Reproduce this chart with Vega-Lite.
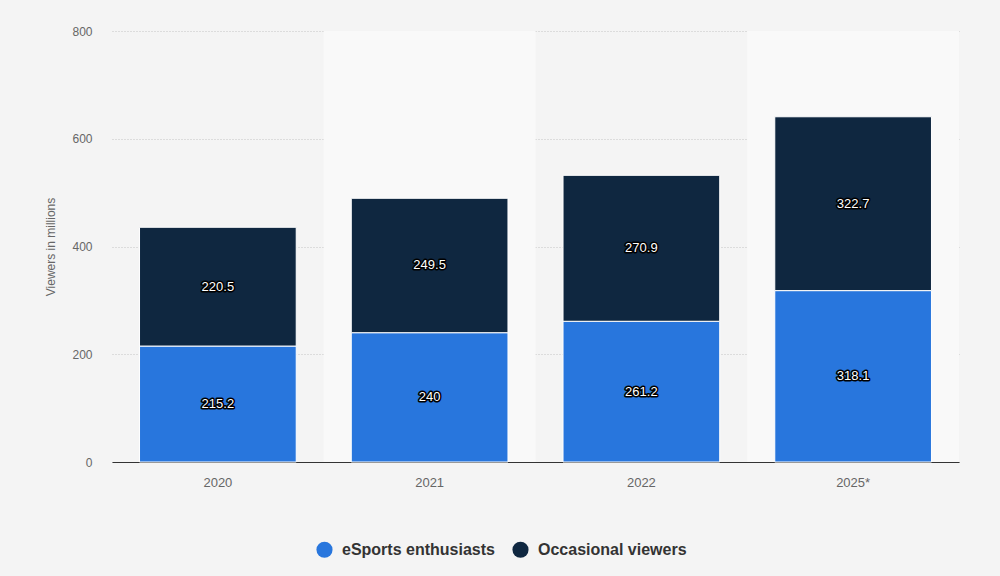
{
  "$schema": "https://vega.github.io/schema/vega-lite/v6.json",
  "width": 847,
  "height": 431,
  "autosize": {"type": "none"},
  "padding": {"left": 112, "top": 31, "right": 41, "bottom": 114},
  "background": "#f4f4f4",
  "config": {
    "view": {"stroke": null},
    "font": "Liberation Sans"
  },
  "datasets": {
    "main": [
      {"year": "2020", "series": "eSports enthusiasts", "value": 215.2, "rank": 1},
      {"year": "2020", "series": "Occasional viewers", "value": 220.5, "rank": 2},
      {"year": "2021", "series": "eSports enthusiasts", "value": 240, "rank": 1},
      {"year": "2021", "series": "Occasional viewers", "value": 249.5, "rank": 2},
      {"year": "2022", "series": "eSports enthusiasts", "value": 261.2, "rank": 1},
      {"year": "2022", "series": "Occasional viewers", "value": 270.9, "rank": 2},
      {"year": "2025*", "series": "eSports enthusiasts", "value": 318.1, "rank": 1},
      {"year": "2025*", "series": "Occasional viewers", "value": 322.7, "rank": 2}
    ],
    "bands": [
      {"year": "2021"},
      {"year": "2025*"}
    ]
  },
  "encoding": {
    "x": {
      "field": "year",
      "type": "nominal",
      "scale": {"domain": ["2020", "2021", "2022", "2025*"], "paddingInner": 0.26, "paddingOuter": 0.13},
      "axis": {
        "title": null,
        "labelAngle": 0,
        "labelFontSize": 13,
        "labelColor": "#666666",
        "labelPadding": 14,
        "ticks": false,
        "domainColor": "#333333",
        "domainWidth": 1
      }
    }
  },
  "layer": [
    {
      "data": {"name": "bands"},
      "mark": {"type": "bar", "color": "#f9f9f9", "width": {"band": 1.3514}},
      "encoding": {
        "y": {"datum": 0, "type": "quantitative"},
        "y2": {"datum": 800}
      }
    },
    {
      "data": {"name": "main"},
      "mark": {"type": "bar", "stroke": "#ffffff", "strokeWidth": 1},
      "encoding": {
        "y": {
          "field": "value",
          "type": "quantitative",
          "stack": "zero",
          "scale": {"domain": [0, 800], "nice": false},
          "axis": {
            "title": "Viewers in millions",
            "titleFontSize": 12,
            "titleFontWeight": "normal",
            "titleColor": "#666666",
            "titlePadding": 14,
            "values": [0, 200, 400, 600, 800],
            "labelFontSize": 12,
            "labelColor": "#666666",
            "labelPadding": 20,
            "ticks": false,
            "domain": false,
            "grid": true,
            "gridColor": "#c4c4c4",
            "gridDash": [1, 2],
            "gridWidth": 1
          }
        },
        "color": {
          "field": "series",
          "type": "nominal",
          "scale": {"domain": ["eSports enthusiasts", "Occasional viewers"], "range": ["#2876dd", "#0f2740"]},
          "legend": {
            "title": null,
            "orient": "none",
            "direction": "horizontal",
            "legendX": 204,
            "legendY": 510,
            "symbolType": "circle",
            "symbolSize": 260,
            "symbolStrokeWidth": 0,
            "labelFontSize": 16,
            "labelFontWeight": "bold",
            "labelColor": "#333333",
            "columnPadding": 17,
            "labelOffset": 9
          }
        },
        "order": {"field": "rank", "type": "quantitative"}
      }
    },
    {
      "data": {"name": "main"},
      "mark": {"type": "text", "fontSize": 13, "fill": "#ffffff", "stroke": "#000000", "strokeWidth": 3, "strokeJoin": "round", "baseline": "middle"},
      "encoding": {
        "y": {"field": "value", "type": "quantitative", "stack": "zero", "bandPosition": 0.5},
        "text": {"field": "value", "type": "quantitative"},
        "order": {"field": "rank", "type": "quantitative"}
      }
    },
    {
      "data": {"name": "main"},
      "mark": {"type": "text", "fontSize": 13, "fill": "#ffffff", "baseline": "middle"},
      "encoding": {
        "y": {"field": "value", "type": "quantitative", "stack": "zero", "bandPosition": 0.5},
        "text": {"field": "value", "type": "quantitative"},
        "order": {"field": "rank", "type": "quantitative"}
      }
    }
  ]
}
